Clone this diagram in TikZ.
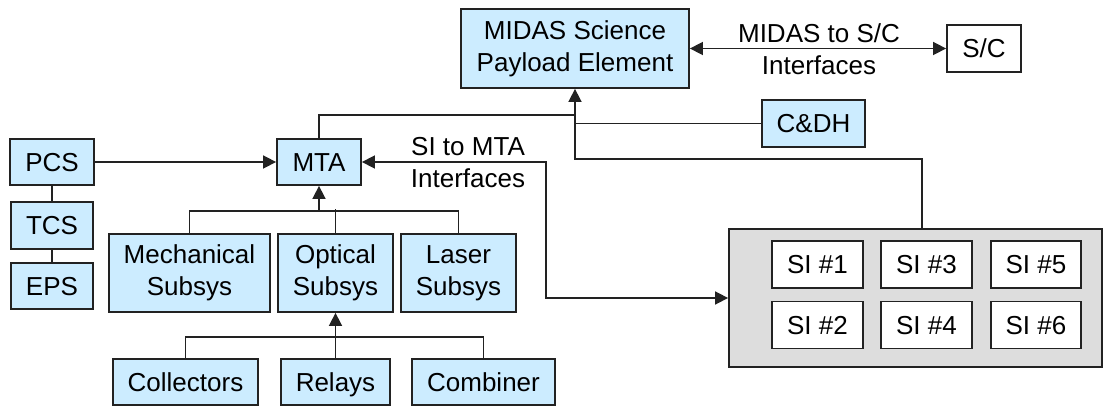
\documentclass[tikz,border=0pt]{standalone}
\usepackage{fontspec}
\setmainfont{Liberation Sans}
\usetikzlibrary{arrows.meta,calc}

\definecolor{boxblue}{HTML}{CCECFF}
\definecolor{groupgray}{HTML}{DDDDDD}
\definecolor{edge}{HTML}{222222}

\begin{document}
\begin{tikzpicture}[x=0.5pt,y=-0.5pt,
  font=\fontsize{13}{16}\selectfont,
  unit/.style={draw=edge,line width=0.9pt,fill=boxblue,inner sep=0pt,align=center},
  plain/.style={unit,fill=white},
  oneline/.style={text height=11.5pt,text depth=2.3pt},
  link/.style={line width=0.8pt,draw=edge},
  arr/.style={link,-{Triangle[length=6.5pt,width=6.5pt]}},
  arrs/.style={link,{Triangle[length=6.5pt,width=6.5pt]}-{Triangle[length=6.5pt,width=6.5pt]}}]
  \useasboundingbox (0,0) rectangle (1104,406);

  % top level
  \node[unit,minimum width=114pt,minimum height=39.5pt] (midas) at (575,48.5) {MIDAS Science\\Payload Element};
  \node[plain,oneline,minimum width=37pt,minimum height=23.5pt] (sc) at (984,48.5) {S/C};
  \node[unit,oneline,minimum width=51.5pt,minimum height=23.5pt] (cdh) at (813.5,123.5) {C\&DH};

  % MTA and the power/thermal side
  \node[unit,oneline,minimum width=42pt,minimum height=23pt] (mta) at (319,162) {MTA};
  \node[unit,oneline,minimum width=42pt,minimum height=23pt] (pcs) at (52,162) {PCS};
  \node[unit,oneline,minimum width=41pt,minimum height=23.5pt] (tcs) at (52,225.5) {TCS};
  \node[unit,oneline,minimum width=41pt,minimum height=23pt] (eps) at (52,286) {EPS};

  % subsystems
  \node[unit,minimum width=80.5pt,minimum height=39pt] (mech) at (189.5,273) {Mechanical\\Subsys};
  \node[unit,minimum width=57.5pt,minimum height=39pt] (opt) at (335.5,273) {Optical\\Subsys};
  \node[unit,minimum width=57.5pt,minimum height=39pt] (laser) at (458.5,273) {Laser\\Subsys};

  % optical parts
  \node[unit,oneline,minimum width=72.5pt,minimum height=23pt] (coll) at (185.5,382) {Collectors};
  \node[unit,oneline,minimum width=54.5pt,minimum height=23pt] (relays) at (335.5,382) {Relays};
  \node[unit,oneline,minimum width=71.5pt,minimum height=23pt] (comb) at (483.5,382) {Combiner};

  % science instruments
  \node[draw=edge,line width=0.9pt,fill=groupgray,minimum width=186.5pt,minimum height=69pt] (sigroup) at (915.5,298) {};
  \node[plain,oneline,minimum width=45.5pt,minimum height=23.5pt] (si1) at (817.5,264.5) {SI \#1};
  \node[plain,oneline,minimum width=45.5pt,minimum height=23.5pt] (si2) at (817.5,325) {SI \#2};
  \node[plain,oneline,minimum width=45.5pt,minimum height=23.5pt] (si3) at (926.5,264.5) {SI \#3};
  \node[plain,oneline,minimum width=45.5pt,minimum height=23.5pt] (si4) at (926.5,325) {SI \#4};
  \node[plain,oneline,minimum width=45pt,minimum height=23.5pt] (si5) at (1036,264.5) {SI \#5};
  \node[plain,oneline,minimum width=45pt,minimum height=23.5pt] (si6) at (1036,325) {SI \#6};

  % interfaces
  \draw[arrs] (midas) -- (sc);
  \node[align=center] (scif) at (819,49) {MIDAS to S/C\\Interfaces};
  \draw[arrs] (mta.east) -- ++(184,0) |- (sigroup.west);
  \node[align=center] (siif) at (468,163) {SI to MTA\\Interfaces};

  % into the payload element
  \draw[link] (mta.north) |- ($(midas.south)+(0,26)$);
  \draw[link] (cdh.west) -- (midas.south |- cdh.west);
  \draw[arr] ([xshift=3.25pt]sigroup.north) |- ($(midas.south)+(0,70)$) -- (midas.south);

  % left chain
  \draw[arr] (pcs) -- (mta);
  \draw[link] (pcs) -- (tcs);
  \draw[link] (tcs) -- (eps);

  % subsystem trees
  \draw[arr] (mech.north) |- ($(mta.south)+(0,25)$) -- (mta.south);
  \draw[link] (laser.north) |- ($(mta.south)+(0,25)$);
  \draw[link] (opt.north) -- ++(0,-24);
  \draw[arr] (coll.north) |- ($(opt.south)+(0,24)$) -- (opt.south);
  \draw[link] (comb.north) |- ($(opt.south)+(0,24)$);
  \draw[link] (relays.north) -- ++(0,-23);
\end{tikzpicture}
\end{document}
